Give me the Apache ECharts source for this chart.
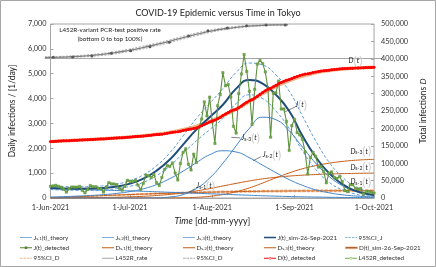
<!DOCTYPE html>
<html><head><meta charset="utf-8">
<script src="https://cdn.jsdelivr.net/npm/echarts@6/dist/echarts.min.js"></script>
<style>html,body{margin:0;padding:0;background:#fff}#c{width:436px;height:267px}</style>
</head><body><div id="c"></div>
<script>
// ---------- DATA ----------
const tickDays = [0, 30, 61, 92, 122];
const tickLabels = ['1-Jun-2021', '1-Jul-2021', '1-Aug-2021', '1-Sep-2021', '1-Oct-2021'];

// daily detected infections, 1-Jun-2021 .. 1-Oct-2021
const jDetected = [
 471,487,508,472,436,351,235,369,440,439,435,467,304,209,337,501,452,453,388,376,236,435,619,570,562,534,386,317,476,714,
 673,660,716,518,342,593,920,896,822,950,614,502,830,1149,1308,1271,1410,1008,727,1387,1832,1979,1359,1128,1763,1429,2848,3177,3865,3300,4058,
 3058,2195,3709,4166,5042,4515,4566,4066,2884,2612,4200,4989,5773,5094,4295,2962,4377,5386,5534,5405,5074,4392,2447,4220,4228,4704,3581,3581,3081,1915,2909,
 3168,2632,2539,2362,1853,968,1629,1834,1675,1242,1273,1067,611,1004,1052,831,782,862,667,302,253,537,531,382,361,384,154,266,267,218,
 200];
// total detected infections D(t)
const dDetected = [
 162000,162487,162995,163467,163903,164254,164489,164858,165298,165737,166172,166639,166943,167152,167489,167990,168442,168895,169283,169659,169895,170330,170949,171519,172081,172615,173001,173318,173794,174508,
 175181,175841,176557,177075,177417,178010,178930,179826,180648,181598,182212,182714,183544,184693,186001,187272,188682,189690,190417,191804,193636,195615,196974,198102,199865,201294,204142,207319,211184,214484,218542,
 221600,223795,227504,231670,236712,241227,245793,249859,252743,255355,259555,264544,270317,275411,279706,282668,287045,292431,297965,303370,308444,312836,315283,319503,323731,328435,332016,335597,338678,340593,343502,
 346670,349302,351841,354203,356056,357024,358653,360487,362162,363404,364677,365744,366355,367359,368411,369242,370024,370886,371553,371855,372108,372645,373176,373558,373919,374303,374457,374723,374990,375208,
 375408];

// theory curves sampled on these days
const sampleDays = [0,5,10,15,20,25,30,35,40,45,50,55,60,65,70,75,80,85,90,95,100,105,110,115,120,122];
const jS1 = [370,360,345,330,315,300,285,270,250,230,210,190,170,150,130,110,90,75,60,48,38,30,22,16,12,10];
const jS2 = [40,55,75,100,135,185,260,370,540,780,1080,1420,1740,1900,1850,1620,1320,1020,740,510,330,210,130,80,50,42];
const jS3 = [0,0,0,0,0,0,0,2,10,40,140,380,800,1400,2100,2800,3250,3150,2700,2050,1400,870,500,270,150,120];
const jSim = [400,385,375,380,400,460,580,780,1100,1550,2150,2750,3250,3750,4400,4750,4600,4150,3500,2500,1650,1000,560,290,150,120];
const jCIup = [470,460,455,465,490,560,700,930,1300,1820,2500,3200,3800,4400,5050,5430,5350,4950,4300,3300,2300,1450,850,460,250,200];
const jCIlo = [340,320,310,310,325,375,470,630,900,1290,1800,2300,2750,3200,3800,4150,4000,3500,2800,1900,1150,640,330,160,80,65];
const dS1 = [0,1800,3600,5300,6900,8400,9900,11300,12600,13800,14900,15900,16800,17600,18300,18900,19400,19800,20100,20400,20600,20800,20900,21000,21100,21100];
const dS2 = [0,200,500,900,1400,2200,3300,4900,7200,10400,14700,20300,27000,34500,42000,49000,55000,59500,63000,65500,67500,69000,70000,70800,71400,71600];
const dS3 = [0,0,0,0,0,0,0,0,20,150,600,1900,4800,10000,18000,29000,43000,58000,72000,84000,93000,100000,105000,108500,110500,111000];
const dSim = [162000,164300,166300,168200,170200,172700,175500,178800,183000,188600,196000,206000,219500,236500,255500,277500,300000,320500,337500,350500,360000,366500,370800,373500,375000,375400];
const dCIup = [0,2000,4000,5900,7700,9400,11100,12700,14100,15500,16700,17800,18800,19700,20500,21200,21700,22200,22500,22800,23100,23300,23400,23500,23600,23600];
const dCIlo = [0,1600,3200,4700,6100,7500,8800,10100,11200,12300,13300,14200,15000,15700,16300,16800,17300,17600,17900,18200,18300,18500,18600,18700,18800,18800];

// L452R-variant positive rate [%] (inset, bottom 0 to top 100 %)
const rateDays = [0,5,10,15,20,25,30,35,40,45,50,55,60,65,70,75,80,85,88];
const rateTheory = [1.5,2.5,4,6.5,10,15,22,30,39,49,60,70,79,86,91,94.5,96.5,97.5,98];
const rateCIup = [3,4.5,6.5,9,13,18.5,25.5,34,43,53,64,74,82.5,89,93.5,96.5,98,99,99.3];
const rateCIlo = [0.5,1,2,4,7,11.5,18.5,26,35,45,56,66,75.5,83,88.5,92.5,95,96,96.7];
const rateDetDays = [3,10,17,24,31,38,45,52,59,66,73,80,87];
const rateDetected = [2,3,6,14,21,33,46,65,80,88,95,97,97];

// ---------- BUILD ----------
const pair = (xs, ys) => ys.map((v, i) => [xs[i], v]);
const daily = ys => ys.map((v, i) => [i, v]);
const FONT = 'Lato';

// legend icons (24x10 box, corner dots keep the box)
const BOX = 'M0,0H0.01V0.01H0Z M23.99,9.99H24V10H23.99Z ';
const ICON = {
  line: 'path://' + BOX + 'M0,4H24V6H0Z',
  thick: 'path://' + BOX + 'M0,3.3H24V6.7H0Z',
  dash: 'path://' + BOX + 'M0,4H5V6H0Z M7,4H12V6H7Z M14,4H19V6H14Z M21,4H24V6H21Z',
  sq: 'path://' + BOX + 'M0,4H24V6H0Z M9.5,2.5H14.5V7.5H9.5Z',
  dot: 'path://' + BOX + 'M0,4H24V6H0Z M9.5,5A2.5,2.5 0 1,0 14.5,5A2.5,2.5 0 1,0 9.5,5Z'
};
const legendItems = [
  ['Js1','J{sub|s,1}(t)_theory', ICON.line, '#7fb0e0'],
  ['Js2','J{sub|s,2}(t)_theory', ICON.line, '#7fb0e0'],
  ['Js3','J{sub|s,3}(t)_theory', ICON.line, '#7fb0e0'],
  ['Jsim','J(t)_sim-26-Sep-2021', ICON.thick, '#1f4e79'],
  ['CIJ','95%CI_J', ICON.dash, '#8db8e3'],
  ['Jdet','J(t)_detected', ICON.sq, '#548235'],
  ['Ds1','D{sub|s,1}(t)_theory', ICON.line, '#c55a11'],
  ['Ds2','D{sub|s,2}(t)_theory', ICON.line, '#c55a11'],
  ['Ds3','D{sub|s,3}(t)_theory', ICON.line, '#c55a11'],
  ['Dsim','D(t)_sim-26-Sep-2021', ICON.thick, '#843c0c', '#f4b183'],
  ['CID','95%CI_D', ICON.dash, '#f4b183'],
  ['Lrate','L452R_rate', ICON.line, '#a6a6a6'],
  ['CIL','95%CI_D', ICON.dash, '#a6a6a6'],
  ['Ddet','D(t)_detected', ICON.dot, '#ff0000'],
  ['Ldet','L452R_detected', ICON.dot, '#70ad47']
];
const colX = [20, 102, 183, 264, 345];
const rowY = [234.5, 244.8, 255.3];
const legends = legendItems.map((it, k) => ({
  left: colX[k % 5], top: rowY[Math.floor(k / 5)], padding: 0, itemWidth: 12, itemHeight: 5, itemGap: 0,
  selectedMode: false,
  data: [{name: it[0], icon: it[2], itemStyle: {color: it[3], borderColor: it[4] || it[3], borderWidth: it[4] ? 0.8 : 0}}],
  formatter: () => it[1],
  textStyle: {fontFamily: FONT, fontSize: 6.3, color:'#333', padding:[0,0,0,-3.5],
    rich: {sub: {fontFamily: FONT, fontSize: 4.5, verticalAlign:'bottom', padding:[2,0,0,0]}}}
}));

const richLbl = {i:{fontStyle:'italic', fontFamily:FONT, fontSize:7, color:'#222'}, s:{fontFamily:FONT, fontSize:5, color:'#222', padding:[3,0,0,0]}, n:{fontFamily:FONT, fontSize:7, color:'#222'}};
const arrowLine = (a, b) => [{coord:a}, {coord:b}];
const txtPoint = (c, f) => ({coord:c, symbol:'circle', symbolSize:0.1, itemStyle:{color:'transparent'},
  label:{show:true, position:'inside', formatter:f, rich:richLbl}});
const markLineStyle = {symbol:['none','arrow'], symbolSize:[0,4], silent:true, label:{show:false},
  lineStyle:{color:'#333', width:0.6, type:'solid'}, emphasis:{disabled:true}};

const L = (name, data, color, width, extra) => Object.assign({
  type:'line', name, data, showSymbol:false, symbol:'none', smooth: true, animation:false,
  lineStyle:{color, width}, itemStyle:{color}, xAxisIndex:0, yAxisIndex:0, z:2
}, extra || {});

const series = [
  L('Dsim', pair(sampleDays, dSim), '#843c0c', 2, {yAxisIndex:1, lineStyle:{color:'#f4b183', width:3.5}}),
  L('CID', pair(sampleDays, dCIup), '#f4b183', 1.2, {yAxisIndex:1, lineStyle:{color:'#f4b183', width:1.2, type:[3,1.5]}}),
  L('CID', pair(sampleDays, dCIlo), '#f4b183', 1.2, {yAxisIndex:1, lineStyle:{color:'#f4b183', width:1.2, type:[3,1.5]}}),
  L('Ds1', pair(sampleDays, dS1), '#c55a11', 1, {yAxisIndex:1}),
  L('Ds2', pair(sampleDays, dS2), '#c55a11', 1, {yAxisIndex:1}),
  L('Ds3', pair(sampleDays, dS3), '#c55a11', 1, {yAxisIndex:1,
    markPoint:{silent:true, data:[
      txtPoint([117, 134000], '{i|D}{s|s-3}({i|t})'),
      txtPoint([117, 88000], '{i|D}{s|s-2}({i|t})'),
      txtPoint([117, 47000], '{i|D}{s|s-1}({i|t})'),
      txtPoint([115, 393000], '{i|D}({i|t})')]}}),
  L('CIJ', pair(sampleDays, jCIup), '#5b9bd5', 1, {lineStyle:{color:'#5b9bd5', width:1, type:[3,2]}}),
  L('CIJ', pair(sampleDays, jCIlo), '#5b9bd5', 1, {lineStyle:{color:'#5b9bd5', width:1, type:[3,2]}}),
  L('Js1', pair(sampleDays, jS1), '#3f83c6', 1, {
    markPoint:{silent:true, data:[
      txtPoint([94.5, 3740], '{i|J}({i|t})'),
      txtPoint([75.5, 2410], '{i|J}{s|s-3}({i|t})'),
      txtPoint([83.5, 1730], '{i|J}{s|s-2}({i|t})'),
      txtPoint([58.5, 480], '{i|J}{s|s-1}({i|t})')]},
    markLine: Object.assign({data:[
      arrowLine([92.2, 3660], [88.3, 3460]),
      arrowLine([71.5, 2420], [68.2, 2440]),
      arrowLine([79.3, 1660], [76.4, 1500]),
      arrowLine([54.5, 370], [52, 230])]}, markLineStyle)}),
  L('Js2', pair(sampleDays, jS2), '#3f83c6', 1),
  L('Js3', pair(sampleDays, jS3), '#3f83c6', 1),
  L('Jsim', pair(sampleDays, jSim), '#1f4e79', 2),
  L('Jdet', daily(jDetected), '#5f9140', 1.1, {smooth:false, showSymbol:true, symbol:'rect', symbolSize:2.4,
    itemStyle:{color:'#70ad47', borderColor:'#548235', borderWidth:0.4}, z:3}),
  L('Ddet', daily(dDetected), '#ff0000', 2.2, {smooth:false, showSymbol:true, symbol:'circle', symbolSize:3, yAxisIndex:1,
    itemStyle:{color:'#ff0000'}, z:4}),
  L('CIL', pair(rateDays, rateCIup), '#a6a6a6', 0.9, {xAxisIndex:1, yAxisIndex:2, lineStyle:{color:'#a6a6a6', width:0.9, type:[2,1.5]}}),
  L('CIL', pair(rateDays, rateCIlo), '#a6a6a6', 0.9, {xAxisIndex:1, yAxisIndex:2, lineStyle:{color:'#a6a6a6', width:0.9, type:[2,1.5]}}),
  L('Ldet', pair(rateDetDays, rateDetected), '#70ad47', 0, {xAxisIndex:1, yAxisIndex:2, smooth:false, showSymbol:true,
    symbol:'circle', symbolSize:3, lineStyle:{color:'#70ad47', width:0}, itemStyle:{color:'#595959'}, z:5}),
  L('Lrate', pair(rateDays, rateTheory), '#808080', 1.3, {xAxisIndex:1, yAxisIndex:2, z:4})
];

const axisLineStyle = {lineStyle:{color:'#a6a6a6', width:1}};
const labelFont = {fontFamily:FONT, fontSize:7.3, color:'#333'};
const option = {
  animation:false,
  textStyle:{fontFamily:FONT},
  title:{text:'COVID-19 Epidemic versus Time in Tokyo', left:'center', top:4,
    textStyle:{fontFamily:FONT, fontSize:9, fontWeight:'normal', color:'#222'}},
  grid:[
    {left:45, right:54, top:24, bottom:69, show:true, borderColor:'#a6a6a6', borderWidth:1, backgroundColor:'transparent'},
    {left:45, right:54, top:24, height:34, show:false}
  ],
  xAxis:[
    {type:'value', gridIndex:0, min:0, max:122, splitLine:{show:false}, axisLine:axisLineStyle,
     axisTick:{show:true, inside:true, length:3, customValues:tickDays, lineStyle:{color:'#a6a6a6'}},
     axisLabel:Object.assign({customValues:tickDays, margin:6, formatter:v => tickLabels[tickDays.indexOf(v)] || ''}, labelFont),
     name:'{i|Time} [dd-mm-yyyy]', nameLocation:'middle', nameGap:19,
     nameTextStyle:{fontFamily:FONT, fontSize:9, color:'#222', rich:{i:{fontStyle:'italic', fontFamily:FONT, fontSize:9, color:'#222'}}}},
    {type:'value', gridIndex:1, min:0, max:122, show:true, splitLine:{show:false}, axisLine:axisLineStyle,
     axisTick:{show:false}, axisLabel:{show:false}}
  ],
  yAxis:[
    {type:'value', gridIndex:0, position:'left', min:0, max:7000, interval:1000, splitLine:{show:false},
     axisLine:{show:false}, axisTick:{show:true, inside:true, length:3, lineStyle:{color:'#a6a6a6'}},
     axisLabel:Object.assign({margin:4, formatter:v => v.toLocaleString('en-US')}, labelFont),
     name:'Daily infections / [1/day]', nameLocation:'middle', nameGap:29, nameRotate:90,
     nameTextStyle:{fontFamily:FONT, fontSize:8.5, color:'#222'}},
    {type:'value', gridIndex:0, position:'right', min:0, max:500000, interval:50000, splitLine:{show:false},
     axisLine:{show:false}, axisTick:{show:true, inside:true, length:3, lineStyle:{color:'#a6a6a6'}},
     axisLabel:Object.assign({margin:7, formatter:v => v.toLocaleString('en-US')}, labelFont),
     name:'Total infections {i|D}', nameLocation:'middle', nameGap:40, nameRotate:90,
     nameTextStyle:{fontFamily:FONT, fontSize:8.5, color:'#222', rich:{i:{fontStyle:'italic', fontFamily:FONT, fontSize:8.5, color:'#222'}}}},
    {type:'value', gridIndex:1, min:0, max:100, show:false, splitLine:{show:false}}
  ],
  legend: legends,
  graphic:[
    {type:'rect', shape:{x:0.5, y:0.5, width:435, height:266}, style:{fill:'none', stroke:'#a6a6a6', lineWidth:1}, silent:true},
    {type:'text', x:110, y:30, style:{text:'L452R-variant PCR-test positive rate', fontFamily:FONT, fontSize:6.3, fill:'#222', align:'center', verticalAlign:'middle'}},
    {type:'text', x:110, y:39, style:{text:'(bottom 0 to top 100%)', fontFamily:FONT, fontSize:6.3, fill:'#222', align:'center', verticalAlign:'middle'}}
  ],
  series
};
const chart = echarts.init(document.getElementById('c'), null, {renderer:'canvas'});
chart.setOption(option);
</script></body></html>
